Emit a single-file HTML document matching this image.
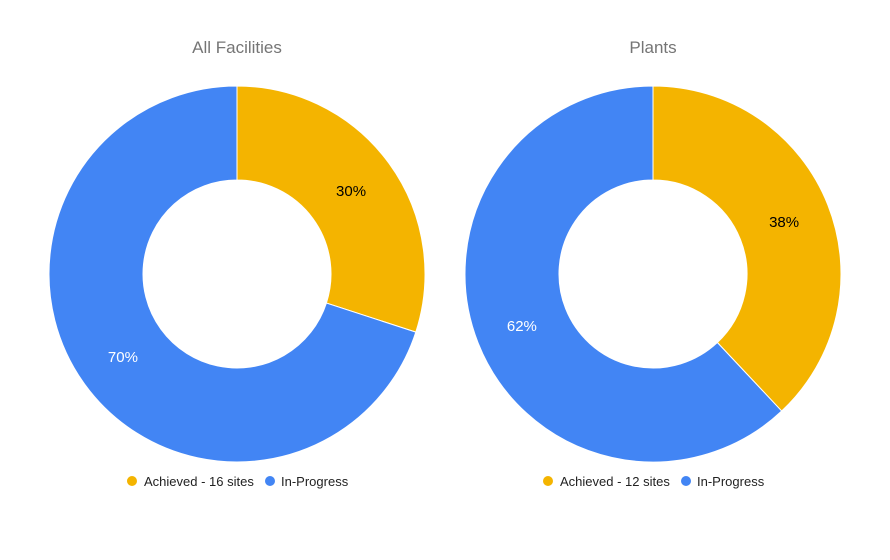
<!DOCTYPE html>
<html>
<head>
<meta charset="utf-8">
<style>
  html,body{margin:0;padding:0;background:#fff;}
  body{width:890px;height:555px;overflow:hidden;font-family:"Liberation Sans",Arial,sans-serif;}
</style>
</head>
<body>
<svg id="chart" width="890" height="555" xmlns="http://www.w3.org/2000/svg"></svg>
<script>
const chartTitles = ["All Facilities", "Plants"];
const achievedPct = [30, 38];
const inProgressPct = [70, 62];
const legendAchieved = ["Achieved - 16 sites", "Achieved - 12 sites"];
const legendInProgress = ["In-Progress", "In-Progress"];

const NS = "http://www.w3.org/2000/svg";
const svg = document.getElementById("chart");
const centersX = [237, 653];
const cy = 274, R = 188, r = 94;
const colors = ["#F4B400", "#4285F4"];

function mk(tag, attrs, parent){
  const e = document.createElementNS(NS, tag);
  for (const k in attrs) e.setAttribute(k, attrs[k]);
  (parent || svg).appendChild(e);
  return e;
}
function pt(cx, rad, frac){
  const a = frac * 2 * Math.PI;
  return [cx + rad * Math.sin(a), cy - rad * Math.cos(a)];
}
function arcPath(cx, f0, f1){
  const large = (f1 - f0) > 0.5 ? 1 : 0;
  const [x0,y0] = pt(cx, R, f0), [x1,y1] = pt(cx, R, f1);
  const [x2,y2] = pt(cx, r, f1), [x3,y3] = pt(cx, r, f0);
  return `M${x0},${y0} A${R},${R} 0 ${large} 1 ${x1},${y1} L${x2},${y2} A${r},${r} 0 ${large} 0 ${x3},${y3} Z`;
}

for (let i = 0; i < 2; i++) {
  const cx = centersX[i];
  const g = mk("g", {});
  
  

  const t = mk("text", {x: cx, y: 53, "text-anchor": "middle", "font-size": 17, fill: "#757575"}, g);
  t.textContent = chartTitles[i];
  
  

  const vals = [achievedPct[i], inProgressPct[i]];
  const total = vals[0] + vals[1];
  let start = 0;
  for (let j = 0; j < 2; j++) {
    const f = vals[j] / total;
    const p = mk("path", {d: arcPath(cx, start, start + f), fill: colors[j], stroke: "#fff", "stroke-width": 1}, g);
    
    
    const [lx, ly] = pt(cx, (R + r) / 2, start + f / 2);
    const lt = mk("text", {x: lx, y: ly + 5, "text-anchor": "middle", "font-size": 15, fill: j === 0 ? "#000" : "#fff"}, g);
    lt.textContent = vals[j] + "%";
    
    
    start += f;
  }

  // legend
  const lx0 = cx - 105;
  const c1 = mk("circle", {cx: lx0, cy: 481, r: 5, fill: colors[0]}, g);
  
  
  const t1 = mk("text", {x: lx0 + 12, y: 486, "font-size": 13, fill: "#222"}, g);
  t1.textContent = legendAchieved[i];
  
  
  const c2 = mk("circle", {cx: lx0 + 138, cy: 481, r: 5, fill: colors[1]}, g);
  
  
  const t2 = mk("text", {x: lx0 + 149, y: 486, "font-size": 13, fill: "#222"}, g);
  t2.textContent = legendInProgress[i];
  
  
}
</script>
</body>
</html>
